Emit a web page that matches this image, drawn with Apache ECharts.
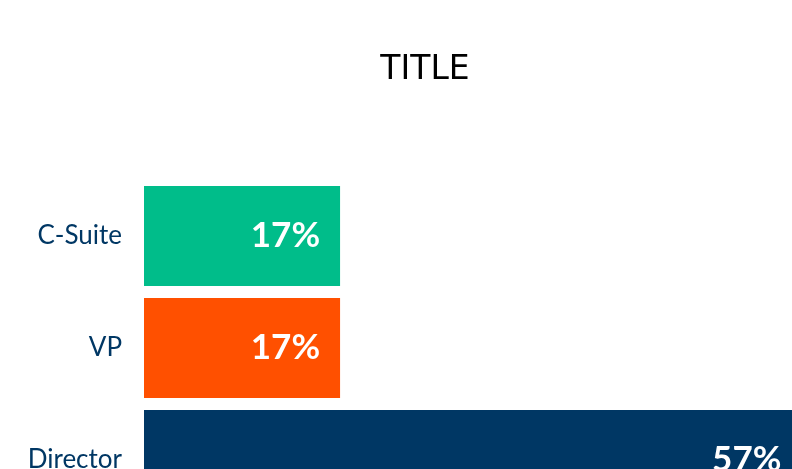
<!DOCTYPE html>
<html>
<head>
<meta charset="utf-8">
<script src="https://cdn.jsdelivr.net/npm/echarts@6/dist/echarts.min.js"></script>
<style>
  html, body { margin: 0; padding: 0; overflow: hidden; background: #fff; width: 792px; height: 469px; }
  #chart { width: 850px; height: 540px; }
</style>
</head>
<body>
<div id="chart"></div>
<script>
const titleText = 'TITLE';
const categories = ['C-Suite', 'VP', 'Director'];
const values = [17, 17, 57];
const barColors = ['#00BD8A', '#FF5000', '#003764'];

const chart = echarts.init(document.getElementById('chart'), null, { renderer: 'canvas' });
chart.setOption({
  animation: false,
  backgroundColor: '#ffffff',
  title: {
    text: titleText,
    left: 'center',
    top: 49,
    textStyle: { fontFamily: 'DejaVu Sans', fontWeight: 'normal', fontSize: 33, color: '#000000' }
  },
  grid: { left: 144, top: 180, width: 692, height: 336, containLabel: false },
  xAxis: {
    type: 'value', min: 0, max: 60, show: false
  },
  yAxis: {
    type: 'category',
    data: categories,
    inverse: true,
    axisLine: { show: false },
    axisTick: { show: false },
    splitLine: { show: false },
    axisLabel: { margin: 22, fontFamily: 'Lato', fontSize: 26, color: '#003764' }
  },
  series: [{
    type: 'bar',
    barCategoryGap: '10.7%',
    data: values.map((v, i) => ({ value: v, itemStyle: { color: barColors[i] } })),
    label: {
      show: true,
      position: 'insideRight',
      distance: 20,
      formatter: '{c}%',
      fontFamily: 'Lato',
      fontWeight: 'bold',
      fontSize: 35,
      color: '#ffffff'
    }
  }]
});
</script>
</body>
</html>
